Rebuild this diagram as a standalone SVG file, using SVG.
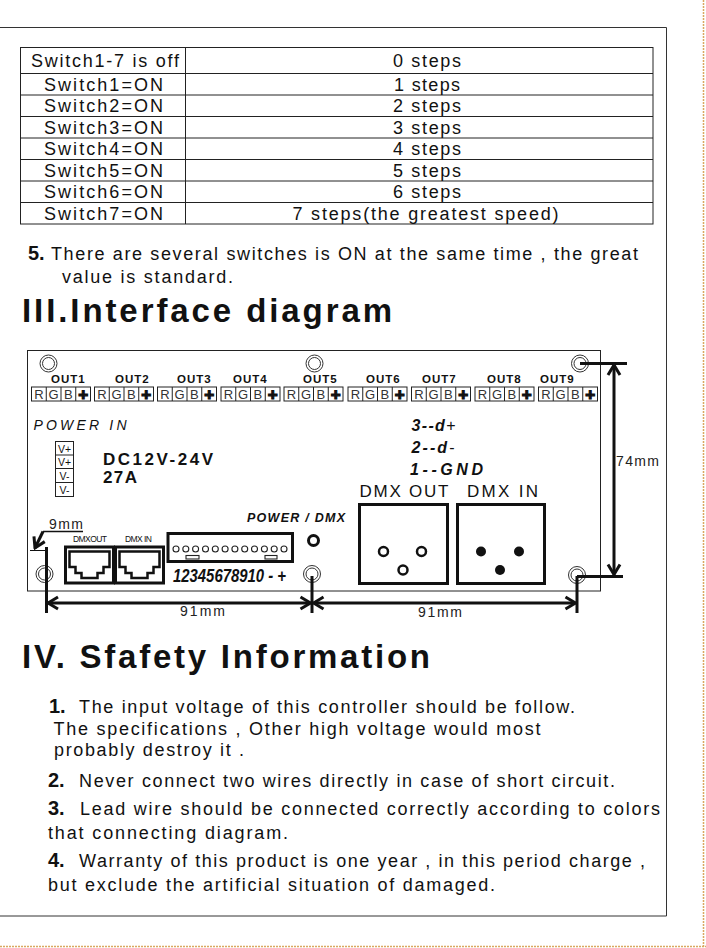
<svg xmlns="http://www.w3.org/2000/svg" width="706" height="948" viewBox="0 0 706 948">
<style>
text{font-family:"Liberation Sans",Arial,sans-serif;fill:#111}
.n{font-family:"Liberation Sans Narrow","Liberation Sans",Arial,sans-serif}
.tb{font-size:18px;text-anchor:middle}
.body{font-size:18px}
.num{font-size:20px;font-weight:bold}
.h{font-size:33px;font-weight:bold}
.thin{fill:none;stroke:#222;stroke-width:1}
.thick{fill:none;stroke:#111;stroke-width:3}
.dim{fill:none;stroke:#111;stroke-width:3}
.hole{fill:none;stroke:#333;stroke-width:1}
.out{font-size:11.5px;font-weight:bold;letter-spacing:1px}
.cell{font-size:13px;fill:#333;text-anchor:middle}
.plus{font-size:17px;font-weight:bold;text-anchor:middle;stroke:#111;stroke-width:1.2}
.bi{font-weight:bold;font-style:italic}
.mm{font-size:14px;fill:#222}
</style>
<defs>
<marker id="ah" viewBox="-12 -8 14 16" refX="0" refY="0" markerWidth="14" markerHeight="16" orient="auto-start-reverse" markerUnits="userSpaceOnUse">
<path d="M-10,-6 L0,0 L-10,6" fill="none" stroke="#111" stroke-width="3"/>
</marker>
<g id="term">
<rect x="0" y="0" width="59" height="14" class="thin"/>
<line x1="14.75" y1="0" x2="14.75" y2="14" class="thin"/>
<line x1="29.5" y1="0" x2="29.5" y2="14" class="thin"/>
<line x1="44.25" y1="0" x2="44.25" y2="14" class="thin"/>
<text x="7.4" y="12.3" class="cell">R</text>
<text x="22.1" y="12.3" class="cell">G</text>
<text x="36.9" y="12.3" class="cell">B</text>
<text x="51.6" y="13" class="plus">+</text>
</g>
<g id="mhole">
<circle r="8.5" class="hole"/>
<circle r="6" class="hole"/>
</g>
<g id="rj45">
<rect x="0" y="0" width="48" height="36" class="thick"/>
<path d="M4,4.5 H44 V20 H38 V26 H32 V31 H16 V26 H10 V20 H4 Z" fill="none" stroke="#111" stroke-width="2.5"/>
</g>
</defs>

<g id="page-frame">
<line x1="0" y1="27.5" x2="666.5" y2="27.5" stroke="#333" stroke-width="1"/>
<line x1="666.5" y1="27.5" x2="666.5" y2="916" stroke="#333" stroke-width="1"/>
<line x1="0" y1="916" x2="666.5" y2="916" stroke="#333" stroke-width="1"/>
<line x1="703.5" y1="0" x2="703.5" y2="948" stroke="#d9a860" stroke-width="1.5" stroke-dasharray="2 1"/>
<line x1="0" y1="946.5" x2="706" y2="946.5" stroke="#d9a860" stroke-width="1.5" stroke-dasharray="2 1"/>
</g>

<g id="speed-table">
<rect x="20.5" y="47.5" width="632.5" height="176.5" class="thin"/>
<line x1="185.5" y1="47.5" x2="185.5" y2="224" class="thin"/>
<line x1="20.5" y1="73.5" x2="653" y2="73.5" class="thin"/>
<line x1="20.5" y1="95" x2="653" y2="95" class="thin"/>
<line x1="20.5" y1="116.5" x2="653" y2="116.5" class="thin"/>
<line x1="20.5" y1="138" x2="653" y2="138" class="thin"/>
<line x1="20.5" y1="159.5" x2="653" y2="159.5" class="thin"/>
<line x1="20.5" y1="181" x2="653" y2="181" class="thin"/>
<line x1="20.5" y1="202.5" x2="653" y2="202.5" class="thin"/>
<g class="n">
<text x="105" y="66.5" class="tb" textLength="148" lengthAdjust="spacing">Switch1-7 is off</text>
<text x="103.5" y="90.5" class="tb" textLength="119" lengthAdjust="spacing">Switch1=ON</text>
<text x="103.5" y="112" class="tb" textLength="119" lengthAdjust="spacing">Switch2=ON</text>
<text x="103.5" y="133.5" class="tb" textLength="119" lengthAdjust="spacing">Switch3=ON</text>
<text x="103.5" y="155" class="tb" textLength="119" lengthAdjust="spacing">Switch4=ON</text>
<text x="103.5" y="176.5" class="tb" textLength="119" lengthAdjust="spacing">Switch5=ON</text>
<text x="103.5" y="198" class="tb" textLength="119" lengthAdjust="spacing">Switch6=ON</text>
<text x="103.5" y="219.5" class="tb" textLength="119" lengthAdjust="spacing">Switch7=ON</text>
<text x="427" y="66.5" class="tb" textLength="68" lengthAdjust="spacing">0 steps</text>
<text x="427" y="90.5" class="tb" textLength="66" lengthAdjust="spacing">1 steps</text>
<text x="427" y="112" class="tb" textLength="68" lengthAdjust="spacing">2 steps</text>
<text x="427" y="133.5" class="tb" textLength="68" lengthAdjust="spacing">3 steps</text>
<text x="427" y="155" class="tb" textLength="68" lengthAdjust="spacing">4 steps</text>
<text x="427" y="176.5" class="tb" textLength="68" lengthAdjust="spacing">5 steps</text>
<text x="427" y="198" class="tb" textLength="68" lengthAdjust="spacing">6 steps</text>
<text x="425.5" y="219.5" class="tb" textLength="266" lengthAdjust="spacing">7 steps(the greatest speed)</text>
</g>
</g>

<g id="note5" class="n">
<text x="28" y="260" class="num">5.</text>
<text x="51" y="260" class="body" textLength="587" lengthAdjust="spacing">There are several switches is ON at the same time , the great</text>
<text x="62" y="283" class="body" textLength="171" lengthAdjust="spacing">value is standard.</text>
</g>

<g id="heading3" class="n"><text x="22" y="322" class="h" textLength="370" lengthAdjust="spacing">III.Interface diagram</text></g>

<g id="board">
<rect x="27.5" y="350.5" width="573" height="240.5" class="thin"/>
<use href="#mhole" x="48.5" y="363.5"/>
<use href="#mhole" x="314.5" y="363.5"/>
<use href="#mhole" x="580" y="363.5"/>
<use href="#mhole" x="44.5" y="574"/>
<use href="#mhole" x="312" y="574"/>
<use href="#mhole" x="577" y="575"/>
</g>

<g id="out1"><text x="51" y="383" class="out">OUT1</text><use href="#term" x="31.5" y="387"/></g>
<g id="out2"><text x="115" y="383" class="out">OUT2</text><use href="#term" x="94.5" y="387"/></g>
<g id="out3"><text x="177" y="383" class="out">OUT3</text><use href="#term" x="157.5" y="387"/></g>
<g id="out4"><text x="233" y="383" class="out">OUT4</text><use href="#term" x="221" y="387"/></g>
<g id="out5"><text x="303" y="383" class="out">OUT5</text><use href="#term" x="284" y="387"/></g>
<g id="out6"><text x="366" y="383" class="out">OUT6</text><use href="#term" x="348" y="387"/></g>
<g id="out7"><text x="422" y="383" class="out">OUT7</text><use href="#term" x="411.5" y="387"/></g>
<g id="out8"><text x="487" y="383" class="out">OUT8</text><use href="#term" x="475" y="387"/></g>
<g id="out9"><text x="540" y="383" class="out">OUT9</text><use href="#term" x="538.5" y="387"/></g>

<g id="power-in">
<text x="33.5" y="430" font-size="14" font-style="italic" textLength="93" lengthAdjust="spacing">POWER IN</text>
<rect x="55.5" y="441.5" width="18" height="55" class="thin"/>
<line x1="55.5" y1="455" x2="73.5" y2="455" class="thin"/>
<line x1="55.5" y1="468.5" x2="73.5" y2="468.5" class="thin"/>
<line x1="55.5" y1="482.5" x2="73.5" y2="482.5" class="thin"/>
<text x="64.5" y="452.5" font-size="10.5" text-anchor="middle">V+</text>
<text x="64.5" y="466" font-size="10.5" text-anchor="middle">V+</text>
<text x="64.5" y="480" font-size="10.5" text-anchor="middle">V-</text>
<text x="64.5" y="494" font-size="10.5" text-anchor="middle">V-</text>
<text x="103" y="465" font-size="17" font-weight="bold" textLength="110" lengthAdjust="spacing">DC12V-24V</text>
<text x="103" y="483" font-size="17" font-weight="bold" textLength="34" lengthAdjust="spacing">27A</text>
</g>

<g id="dmx-pinout">
<text x="411.5" y="431" font-size="16" class="bi" textLength="44" lengthAdjust="spacing">3--d<tspan font-weight="normal" font-style="normal">+</tspan></text>
<text x="411.5" y="453" font-size="16" class="bi" textLength="43" lengthAdjust="spacing">2--d<tspan font-weight="normal" font-style="normal">-</tspan></text>
<text x="410" y="474.5" font-size="16" class="bi" textLength="73" lengthAdjust="spacing">1--GND</text>
</g>

<g id="dmx-out-xlr">
<text x="359.5" y="497" font-size="17" textLength="89" lengthAdjust="spacing">DMX OUT</text>
<rect x="359.5" y="504.5" width="88" height="79" class="thick"/>
<circle cx="383.5" cy="551.5" r="4.5" fill="none" stroke="#111" stroke-width="2.5"/>
<circle cx="421.5" cy="551.5" r="4.5" fill="none" stroke="#111" stroke-width="2.5"/>
<circle cx="403" cy="570" r="4.5" fill="none" stroke="#111" stroke-width="2.5"/>
</g>
<g id="dmx-in-xlr">
<text x="467" y="497" font-size="17" textLength="71" lengthAdjust="spacing">DMX IN</text>
<rect x="457.5" y="504.5" width="87" height="79" class="thick"/>
<circle cx="481" cy="551.5" r="5" fill="#111"/>
<circle cx="519" cy="551.5" r="5" fill="#111"/>
<circle cx="500" cy="570" r="5" fill="#111"/>
</g>

<g id="power-dmx-led">
<text x="247" y="522" font-size="12.5" class="bi" textLength="98" lengthAdjust="spacing">POWER / DMX</text>
<circle cx="313.5" cy="540.5" r="5" fill="none" stroke="#111" stroke-width="3"/>
</g>

<g id="rj45-jacks">
<text x="73" y="541.5" font-size="8.5" textLength="34" lengthAdjust="spacing">DMXOUT</text>
<text x="125" y="541.5" font-size="8.5" textLength="27" lengthAdjust="spacing">DMX IN</text>
<use href="#rj45" x="65.5" y="547"/>
<use href="#rj45" x="115.5" y="547"/>
</g>

<g id="dip-switch">
<rect x="168" y="533.5" width="124.5" height="28" class="thick"/>
<g fill="none" stroke="#222" stroke-width="1.1">
<circle cx="176" cy="549" r="3"/><circle cx="185.8" cy="549" r="3"/><circle cx="195.6" cy="549" r="3"/><circle cx="205.5" cy="549" r="3"/><circle cx="215.3" cy="549" r="3"/><circle cx="225.1" cy="549" r="3"/><circle cx="234.9" cy="549" r="3"/><circle cx="244.7" cy="549" r="3"/><circle cx="254.5" cy="549" r="3"/><circle cx="264.4" cy="549" r="3"/><circle cx="274.2" cy="549" r="3"/><circle cx="284" cy="549" r="3"/>
<rect x="186" y="555.5" width="13" height="3.5"/>
<rect x="265" y="555.5" width="12" height="3.5"/>
</g>
<text x="173" y="582" font-size="17.5" class="bi" textLength="113" lengthAdjust="spacingAndGlyphs">12345678910 - +</text>
</g>

<g id="connectors">
<line x1="580" y1="363.5" x2="627" y2="363.5" class="dim"/>
<line x1="577" y1="576.5" x2="623" y2="576.5" class="dim"/>
<line x1="614" y1="365" x2="614" y2="574.5" class="dim" marker-start="url(#ah)" marker-end="url(#ah)"/>
<line x1="46.5" y1="547" x2="46.5" y2="613" class="dim"/>
<line x1="312" y1="576" x2="312" y2="613" class="dim"/>
<line x1="577" y1="576" x2="577" y2="613" class="dim"/>
<line x1="48" y1="603" x2="310.5" y2="603" class="dim" marker-start="url(#ah)" marker-end="url(#ah)"/>
<line x1="313.5" y1="603" x2="575.5" y2="603" class="dim" marker-start="url(#ah)" marker-end="url(#ah)"/>
<line x1="43" y1="531.5" x2="83" y2="531.5" stroke="#111" stroke-width="1.5"/>
<line x1="43" y1="531.5" x2="35" y2="548" stroke="#111" stroke-width="3" marker-end="url(#ah)"/>
<line x1="30" y1="550.5" x2="46.5" y2="550.5" stroke="#111" stroke-width="1"/>
</g>

<g id="dimension-labels">
<text x="616" y="466" class="mm" textLength="43" lengthAdjust="spacing">74mm</text>
<text x="180" y="615.5" class="mm" textLength="45" lengthAdjust="spacing">91mm</text>
<text x="418" y="616.5" class="mm" textLength="44" lengthAdjust="spacing">91mm</text>
<text x="49" y="529" class="mm" textLength="34" lengthAdjust="spacing">9mm</text>
</g>

<g id="heading4" class="n"><text x="22" y="668" class="h" textLength="408" lengthAdjust="spacing">IV. Sfafety Information</text></g>

<g id="safety" class="n">
<text x="49" y="712.5" class="num">1.</text>
<text x="79" y="712.5" class="body" textLength="496" lengthAdjust="spacing">The input voltage of this controller should be follow.</text>
<text x="53.5" y="734.5" class="body" textLength="487" lengthAdjust="spacing">The specifications , Other high voltage would most</text>
<text x="54" y="756" class="body" textLength="190" lengthAdjust="spacing">probably destroy it .</text>
<text x="48" y="787" class="num">2.</text>
<text x="79" y="787" class="body" textLength="536" lengthAdjust="spacing">Never connect two wires directly in case of short circuit.</text>
<text x="48" y="815" class="num">3.</text>
<text x="80" y="815" class="body" textLength="580" lengthAdjust="spacing">Lead wire should be connected correctly according to colors</text>
<text x="48" y="839" class="body" textLength="240" lengthAdjust="spacing">that connecting diagram.</text>
<text x="48" y="866.5" class="num">4.</text>
<text x="79" y="866.5" class="body" textLength="566" lengthAdjust="spacing">Warranty of this product is one year , in this period charge ,</text>
<text x="48" y="891" class="body" textLength="447" lengthAdjust="spacing">but exclude the artificial situation of damaged.</text>
</g>
</svg>
